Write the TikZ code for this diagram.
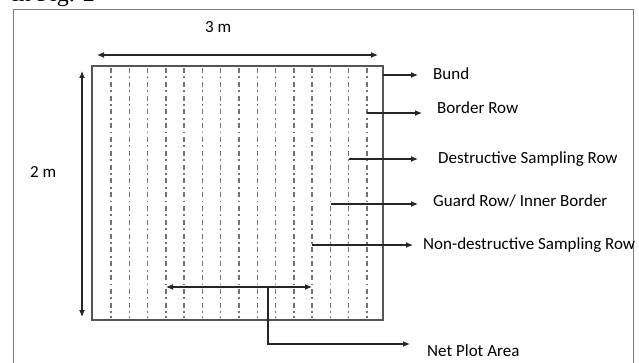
\documentclass[tikz,border=0pt]{standalone}
\usepackage{fontspec}
\setmainfont{Carlito}
\newfontfamily\capfont{Liberation Serif}
\usetikzlibrary{arrows.meta,positioning}
\definecolor{rowgray}{RGB}{115,115,115}
\definecolor{framegray}{RGB}{125,125,125}
\definecolor{plotgray}{RGB}{85,85,85}

\begin{document}
\begin{tikzpicture}[x=1pt,y=-1pt,
    lbl/.style={anchor=base west, inner sep=0pt, font=\fontsize{17}{17}\selectfont},
    pointer/.style={-{Latex[length=7pt,width=6pt]}, line width=1.2pt, black!85},
    twoway/.style={{Latex[length=7pt,width=6pt]}-{Latex[length=7pt,width=6pt]}, line width=1.2pt, black!85},
    row/.style={rowgray, line width=1.4pt, dash pattern=on 5pt off 3.5pt on 1.8pt off 3.5pt}]
            \useasboundingbox (0,0) rectangle (639,363);
            \clip (0,0) rectangle (639,363);

            % Page text and frame
            \node[anchor=base west, inner sep=0pt, font=\capfont\fontsize{24}{24}\selectfont] (figref) at (12,2) {in Fig. 2};
            \draw[framegray, line width=1pt] (13,370) -- (13,10) -- (633,10) -- (633,370);

            % Plot
            \node[draw=plotgray, line width=1.3pt, inner sep=0pt, minimum width=291pt, minimum height=254pt] (plot) at (237.5,193) {};

            % Rows
            \foreach \i in {0,...,14}
                \draw[row] (111+\i*18.286,68) -- (111+\i*18.286,318);

            % Dimensions
            \coordinate (wl) at (97,55);
            \coordinate (wr) at (378,55);
            \coordinate (ht) at (82,71);
            \coordinate (hb) at (82,317);
            \draw[twoway] (wl) -- (wr);
            \draw[twoway] (hb) -- (ht);
            \node[lbl] (wlbl) at (205,33) {3 m};
            \node[lbl] (hlbl) at (30,178) {2 m};

            % Labels
            \node[lbl] (bund) at (433,80) {Bund};
            \node[lbl] (brow) at (437,114) {Border Row};
            \node[lbl] (drow) at (438,164) {Destructive Sampling Row};
            \node[lbl] (grow) at (433,207) {Guard Row/ Inner Border};
            \node[lbl] (nrow) at (423,249) {Non-destructive Sampling Row};
            \node[lbl] (net) at (427,356) {Net Plot Area};

            % Pointers
            \coordinate (bundpt) at (383,75);
            \coordinate (browpt) at (367,113);
            \coordinate (drowpt) at (349,159);
            \coordinate (growpt) at (331,204);
            \coordinate (nrowpt) at (312,245);
            \draw[pointer, shorten >=15pt] (bundpt) -- (bundpt -| bund.west);
            \draw[pointer, shorten >=15pt] (browpt) -- (browpt -| brow.west);
            \draw[pointer, shorten >=20pt] (drowpt) -- (drowpt -| drow.west);
            \draw[pointer, shorten >=15pt] (growpt) -- (growpt -| grow.west);
            \draw[pointer, shorten >=10pt] (nrowpt) -- (nrowpt -| nrow.west);

            % Net plot
            \coordinate (netl) at (166,287);
            \coordinate (netr) at (312,287);
            \coordinate (netmid) at (268,287);
            \coordinate (nettip) at (410,344);
            \draw[twoway] (netl) -- (netr);
            \draw[pointer] (netmid) |- (nettip);
        \end{tikzpicture}
\end{document}
